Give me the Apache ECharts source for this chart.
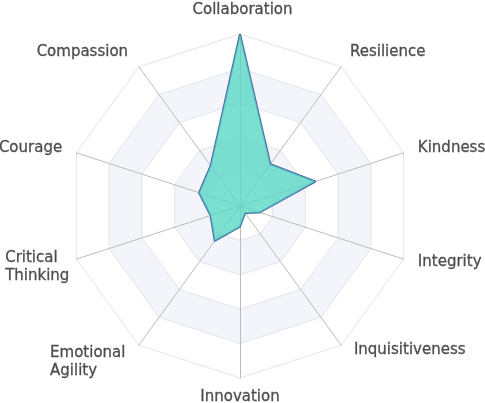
<!DOCTYPE html>
<html lang="en" style="height: 100%">

<head>
    <meta charset="utf-8" />
    <script src="https://cdn.jsdelivr.net/npm/echarts@6/dist/echarts.min.js"></script>
</head>

<body style="height: 100%; margin: 0; background: #fff">
    <div id="container" style="width: 485px;height: 403px;"></div>
    <script type="text/javascript">
        // indicators listed counterclockwise from the top
        const categories = ['Collaboration', 'Compassion', 'Courage', 'Critical\nThinking', 'Emotional\nAgility',
            'Innovation', 'Inquisitiveness', 'Integrity', 'Kindness', 'Resilience'];
        const maxValue = 100;
        const values = [100, 29, 25, 18, 25, 12, 5, 12, 46, 30];

        const fontSize = 15;
        const labelFont = fontSize + 'px "DejaVu Sans"';

        // small nudges of the name labels: padding of single-line names,
        // a spacer line above wrapped names, width trim, line height
        const nudge = {
            'Collaboration': { padding: [0, 0, 0, 5] },
            'Compassion': { padding: [0, 2, 6, 0] },
            'Critical\nThinking': { spacer: 6, trim: 8 },
            'Emotional\nAgility': { spacer: 10, trim: -4 },
            'Innovation': { lineHeight: 8 },
            'Inquisitiveness': { padding: [0, 0, 14, 4] },
            'Integrity': { padding: [0, 0, 4, 0] },
            'Resilience': { padding: [0, 0, 6, 0] }
        };

        // width of the longest line, so that wrapped names stay left aligned
        var ctx = document.createElement('canvas').getContext('2d');
        ctx.font = labelFont;
        function blockWidth(name) {
            return Math.ceil(Math.max.apply(null, name.split('\n').map(function (l) {
                return ctx.measureText(l).width;
            })));
        }

        var rich = {};
        categories.forEach(function (c, i) {
            var n = nudge[c] || {};
            var base = {
                align: 'left',
                color: '#4d4d4d',
                fontFamily: 'DejaVu Sans',
                fontSize: fontSize,
                lineHeight: n.lineHeight || 18,
                textBorderColor: '#4d4d4d',
                textBorderWidth: 0.3
            };
            if (c.indexOf('\n') >= 0) {
                base.width = blockWidth(c) - (n.trim || 0);
            } else if (n.padding) {
                base.padding = n.padding;
            }
            rich['n' + i] = base;
            rich['s' + i] = { fontSize: 1, lineHeight: n.spacer || 1, width: 1 };
        });

        var dom = document.getElementById('container');
        var myChart = echarts.init(dom, null, {
            renderer: 'canvas'
        });

        var option = {
            backgroundColor: '#ffffff',
            radar: {
                center: [240, 206],
                radius: 172,
                startAngle: 90,
                splitNumber: 5,
                shape: 'polygon',
                nameGap: 15,
                indicator: categories.map(function (c) {
                    return { name: c, max: maxValue };
                }),
                axisName: {
                    color: '#4d4d4d',
                    fontFamily: 'DejaVu Sans',
                    fontSize: fontSize,
                    lineHeight: 18,
                    formatter: function (name) {
                        var i = categories.indexOf(name);
                        var lines = name.split('\n').map(function (l) {
                            return '{n' + i + '|' + l + '}';
                        });
                        if ((nudge[name] || {}).spacer) lines.unshift('{s' + i + '|\u00a0}');
                        return lines.join('\n');
                    },
                    rich: rich
                },
                axisLine: {
                    lineStyle: { color: '#bcbcbc', width: 1 }
                },
                splitLine: {
                    lineStyle: { color: '#e2e5ec', width: 1 }
                },
                splitArea: {
                    areaStyle: { color: ['#ffffff', '#f3f5fb'] }
                }
            },
            series: [{
                type: 'radar',
                symbol: 'none',
                lineStyle: { color: '#4a6aab', width: 2 },
                areaStyle: { color: '#5ad8c4', opacity: 0.8 },
                data: [{ value: values, name: 'Score' }]
            }]
        };

        myChart.setOption(option);
        window.addEventListener('resize', myChart.resize);
    </script>
</body>

</html>
